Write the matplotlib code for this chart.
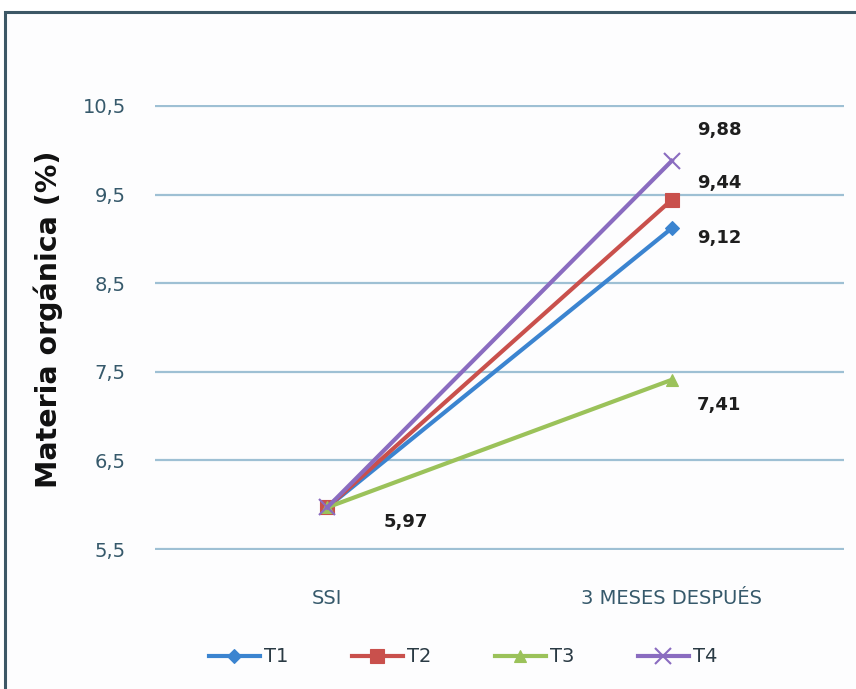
import matplotlib.pyplot as plt
from matplotlib import font_manager
from matplotlib.patches import Rectangle
from matplotlib.ticker import FuncFormatter

# datos: materia orgánica (%) antes (SSI) y 3 meses después
categorias = ["SSI", "3 MESES DESPUÉS"]
tratamientos = ["T1", "T2", "T3", "T4"]
t1 = [5.97, 9.12]
t2 = [5.97, 9.44]
t3 = [5.97, 7.41]
t4 = [5.97, 9.88]
etiquetas = ["9,12", "9,44", "7,41", "9,88"]

colores = ["#3b84d0", "#c9504c", "#9bc25a", "#8a6cc0"]
marcadores = ["D", "s", "^", "x"]
tam_marc = [7, 10, 9, 11]

# fuente estrecha para el título del eje si existe
disponibles = {f.name for f in font_manager.fontManager.ttflist}
if "Liberation Sans Narrow" in disponibles:
    fuente_eje, tam_eje = "Liberation Sans Narrow", 24
else:
    fuente_eje, tam_eje = "DejaVu Sans", 20.5

fig = plt.figure(figsize=(8.56, 6.89), dpi=100)
fig.patch.set_facecolor("white")

# marco del gráfico
marco = Rectangle((5 / 856, -0.05), 1.0, 1 - 12 / 689 + 0.05,
                  transform=fig.transFigure, fill=True,
                  facecolor="#fdfdfe", edgecolor="#3d5866",
                  linewidth=2.2, zorder=-5)
fig.add_artist(marco)

ax = fig.add_axes([155 / 856, 1 - 550 / 689, 689 / 856, 445 / 689])
ax.set_facecolor("none")
ax.set_zorder(2)

x = [0, 1]
series = [t1, t2, t3, t4]
for serie, nombre, c, m, ms in zip(series, tratamientos, colores, marcadores, tam_marc):
    ax.plot(x, serie, color=c, linewidth=3, marker=m, markersize=ms,
            markeredgewidth=1.5 if m == "x" else 0.8, label=nombre, zorder=3)

# etiquetas de valores
pos_y = {"9,88": 130, "9,44": 183, "9,12": 238, "7,41": 405}
for serie, et in zip(series, etiquetas):
    ax.annotate(et, xy=(1, serie[1]), xycoords="data",
                xytext=(697, 689 - pos_y[et]), textcoords="figure pixels",
                ha="left", va="center", fontsize=13, fontweight="bold",
                color="#1e1e1e")
ax.annotate("5,97", xy=(0, 5.97), xytext=(384, 689 - 522),
            textcoords="figure pixels", ha="left", va="center",
            fontsize=13, fontweight="bold", color="#1e1e1e")

ax.set_ylim(5.49, 10.51)
ax.set_yticks([5.5, 6.5, 7.5, 8.5, 9.5, 10.5])
ax.yaxis.set_major_formatter(FuncFormatter(lambda v, p: f"{v:.1f}".replace(".", ",")))
ax.set_xlim(-0.5, 1.5)
ax.set_xticks(x)
ax.set_xticklabels(categorias)

ax.grid(axis="y", color="#9ec0d4", linewidth=1.6)
ax.set_axisbelow(True)
for s in ax.spines.values():
    s.set_visible(False)
ax.tick_params(axis="both", length=0, labelsize=14, labelcolor="#36596b")
ax.tick_params(axis="y", pad=21)
ax.tick_params(axis="x", pad=28)

ax.set_ylabel("Materia orgánica (%)", fontsize=tam_eje, fontweight="bold",
              family=fuente_eje, color="#111111")
ax.yaxis.set_label_coords(-0.1335, 0.519)

ax.legend(loc="center", bbox_to_anchor=(463 / 856, 1 - 657 / 689),
          bbox_transform=fig.transFigure, ncol=4, frameon=False,
          prop={"size": 14}, handlelength=2.6, columnspacing=3.3,
          handletextpad=0.2, labelcolor="#2a3a44")

fig.savefig("out.png", dpi=100)
